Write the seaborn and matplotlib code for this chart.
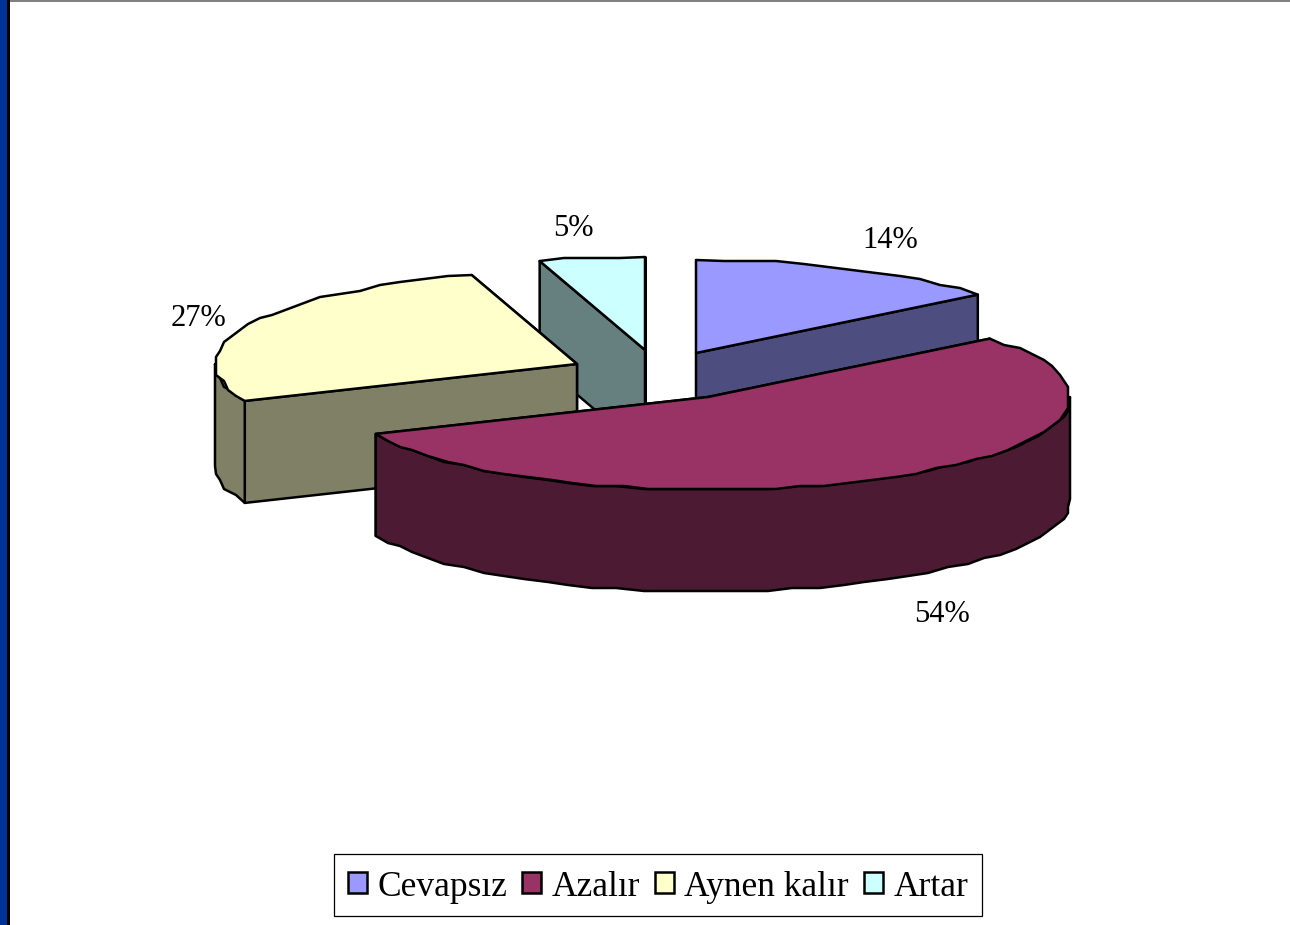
import numpy as np
import seaborn as sns
import matplotlib
matplotlib.use("Agg")
import matplotlib.pyplot as plt
from matplotlib.patches import Polygon, Patch, Rectangle

#Data
categories = ["Cevapsız", "Azalır", "Aynen kalır", "Artar"]
shares = [14.2, 54.3, 26.8, 4.7]
sliceColors = ["#9999ff", "#993366", "#ffffcc", "#ccffff"]

#Layout in pixels: top point of each exploded slice, ellipse radii, pie thickness
apexX = [696, 708, 577, 645]
apexY = [353, 397, 364, 350]
labelX = [890, 942, 198, 573]
labelY = [240, 615, 318, 229]
radiusX = 362
radiusY = 93
depth = 102
drawOrder = [3, 0, 2, 1]

sns.set_style("white")
plt.rcParams["font.family"] = ["Liberation Serif", "DejaVu Serif"]
plt.rcParams["text.color"] = "black"
palette = sns.color_palette(sliceColors)
darkPalette = [tuple(0.5 * c for c in col) for col in palette]

fig, ax = plt.subplots()
fig.set_size_inches(12.9, 9.25)
fig.set_dpi(100)
ax.set_position([0, 0, 1, 1])
ax.set_xlim(0, 1290)
ax.set_ylim(925, 0)
ax.axis("off")

#Slide frame
ax.add_patch(Rectangle((0, 0), 8, 925, facecolor="#003399", edgecolor="none"))
ax.add_patch(Rectangle((7, 0), 3, 925, facecolor="black", edgecolor="none"))
ax.add_patch(Rectangle((10, 0), 1280, 2, facecolor="#808080", edgecolor="none"))


def ellipsePoint(cx, cy, angle):
    rad = np.deg2rad(angle)
    return cx + radiusX * np.sin(rad), cy - radiusY * np.cos(rad)


def arcPoints(cx, cy, start, stop):
    #Old chart export has stepped outlines, so the inner arc points snap to a grid
    steps = max(int((stop - start) / 4), 1)
    angles = np.linspace(start, stop, steps + 1)
    pts = []
    for i, a in enumerate(angles):
        x, y = ellipsePoint(cx, cy, a)
        if 0 < i < steps:
            x = 4 * round(x / 4)
            y = 3 * round(y / 3)
        pts.append((x, y))
    return pts


def addFace(pts, color):
    ax.add_patch(Polygon(pts, closed=True, facecolor=color, edgecolor="black",
                         linewidth=1.8, joinstyle="round"))


startAngles = 360 * np.cumsum([0] + shares[:-1]) / sum(shares)
stopAngles = 360 * np.cumsum(shares) / sum(shares)

for i in drawOrder:
    cx, cy = apexX[i], apexY[i]
    start, stop = startAngles[i], stopAngles[i]
    #Cut walls, the one nearer the viewer goes last
    for a in sorted((start, stop), key=lambda t: -np.cos(np.deg2rad(t))):
        x, y = ellipsePoint(cx, cy, a)
        addFace([(cx, cy), (x, y), (x, y + depth), (cx, cy + depth)], darkPalette[i])
    #Outer wall, only the front half of the ellipse shows
    wallStart, wallStop = max(start, 90), min(stop, 270)
    if wallStart < wallStop:
        edge = arcPoints(cx, cy, wallStart, wallStop)
        lower = [(x, y + depth) for x, y in edge]
        addFace(edge + lower[::-1], darkPalette[i])
    #Top face
    addFace([(cx, cy)] + arcPoints(cx, cy, start, stop), palette[i])

#Percent labels
for i in range(len(shares)):
    ax.text(labelX[i], labelY[i], "%d%%" % round(shares[i]), fontsize=22, color="black",
            ha="center", va="center")

#Legend
handles = [Patch(facecolor=palette[i], edgecolor="black", linewidth=1.8, label=categories[i])
           for i in range(len(categories))]
leg = ax.legend(handles=handles, ncol=4, loc="center", bbox_to_anchor=(658, 885),
                bbox_transform=ax.transData, fontsize=25.5, fancybox=False, framealpha=1,
                edgecolor="black", handlelength=0.53, handleheight=0.53,
                handletextpad=0.3, columnspacing=0.42, borderpad=0.4, borderaxespad=0)
leg.get_frame().set_linewidth(0.9)
for t in leg.get_texts():
    t.set_color("black")
    t.set_y(-2.2)
for p in leg.get_patches():
    p.set_y(p.get_y() - 1.2)

plt.savefig("out.png", dpi=100)
